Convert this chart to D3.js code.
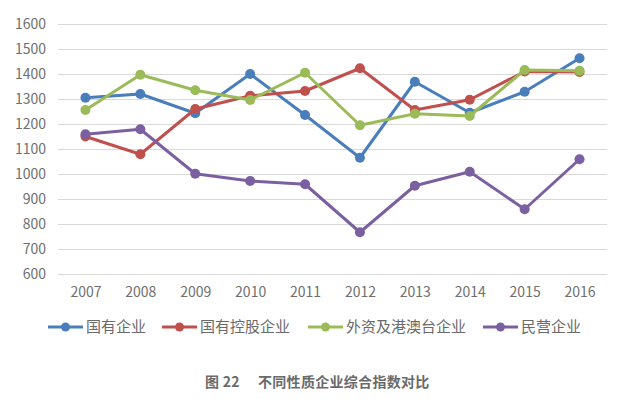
<!DOCTYPE html>
<html lang="zh">
<head>
<meta charset="UTF-8">
<title>不同性质企业综合指数对比</title>
<style>
    body { margin: 0; background: #fff; }
    svg text { font-family: "Noto Sans CJK SC", "Noto Sans", sans-serif; }
    .tick text { fill: #6f6f6f; font-size: 14px; }
    .tick line { stroke: #d9d9d9; stroke-width: 1.2; }
    .legend text { fill: #6a6a6a; font-size: 15px; }
    .caption { fill: #6a6a6a; font-size: 14px; font-weight: bold; letter-spacing: 0.3px; }
</style>
</head>
<body>
<svg width="640" height="399"></svg>
<script src="https://d3js.org/d3.v7.min.js"></script>
<script>

    // Data
    const years = ['2007', '2008', '2009', '2010', '2011', '2012', '2013', '2014', '2015', '2016'];
    const seriesNames = ['国有企业', '国有控股企业', '外资及港澳台企业', '民营企业'];
    const stateOwned = [1305, 1320, 1243, 1400, 1236, 1065, 1369, 1245, 1329, 1463];
    const stateHolding = [1150, 1079, 1260, 1313, 1332, 1423, 1256, 1297, 1410, 1408];
    const foreignHkMoTw = [1256, 1397, 1335, 1296, 1405, 1195, 1241, 1232, 1416, 1413];
    const privateEnt = [1159, 1179, 1001, 972, 959, 767, 953, 1009, 859, 1059];
    const yTickValues = [600, 700, 800, 900, 1000, 1100, 1200, 1300, 1400, 1500, 1600];
    const colors = ['#4a7ebb', '#c0504d', '#9bbb59', '#7b60a1'];

    const svg = d3.select('svg');

    const plotLeft = 58, plotRight = 607, plotTop = 24, plotBottom = 274;

    const xScale = d3.scalePoint()
        .domain(years)
        .range([plotLeft, plotRight])
        .padding(0.5);

    const yScale = d3.scaleLinear()
        .domain([600, 1600])
        .range([plotBottom, plotTop]);

    // gridlines + y labels
    const yAxisG = svg.append('g')
        .attr('transform', 'translate(' + plotLeft + ' 0)')
        .call(d3.axisLeft(yScale)
            .tickValues(yTickValues)
            .tickSize(-(plotRight - plotLeft))
            .tickPadding(12)
            .tickFormat(d3.format('d')));
    yAxisG.select('.domain').remove();

    // x labels
    const xAxisG = svg.append('g')
        .attr('transform', 'translate(0 ' + plotBottom + ')')
        .call(d3.axisBottom(xScale).tickSize(0).tickPadding(13));
    xAxisG.select('.domain').remove();

    const allSeries = [stateOwned, stateHolding, foreignHkMoTw, privateEnt];

    const line = d3.line()
        .x(function (d, i) { return xScale(years[i]); })
        .y(function (d) { return yScale(d); });

    allSeries.forEach(function (values, k) {
        const g = svg.append('g');
        g.append('path')
            .datum(values)
            .attr('d', line)
            .attr('fill', 'none')
            .attr('stroke', colors[k])
            .attr('stroke-width', 3)
            .attr('stroke-linejoin', 'round');
        g.selectAll('circle')
            .data(values)
            .enter()
            .append('circle')
            .attr('cx', function (d, i) { return xScale(years[i]); })
            .attr('cy', function (d) { return yScale(d); })
            .attr('r', 5)
            .attr('fill', colors[k]);
    });

    // legend
    const legendX = [48, 162, 308, 483];
    const legend = svg.append('g').attr('class', 'legend');
    seriesNames.forEach(function (name, k) {
        const g = legend.append('g')
            .attr('transform', 'translate(' + legendX[k] + ' 327)');
        g.append('line')
            .attr('x1', 0).attr('x2', 35)
            .attr('stroke', colors[k])
            .attr('stroke-width', 3);
        g.append('circle')
            .attr('cx', 17.5)
            .attr('r', 4.5)
            .attr('fill', colors[k]);
        g.append('text')
            .attr('x', 38)
            .attr('dy', '0.35em')
            .text(name);
    });

    // caption
    const caption = svg.append('text')
        .attr('class', 'caption')
        .attr('y', 387);
    caption.append('tspan').attr('x', 205).text('图 22');
    caption.append('tspan').attr('x', 258).text('不同性质企业综合指数对比');

</script>
</body>
</html>
